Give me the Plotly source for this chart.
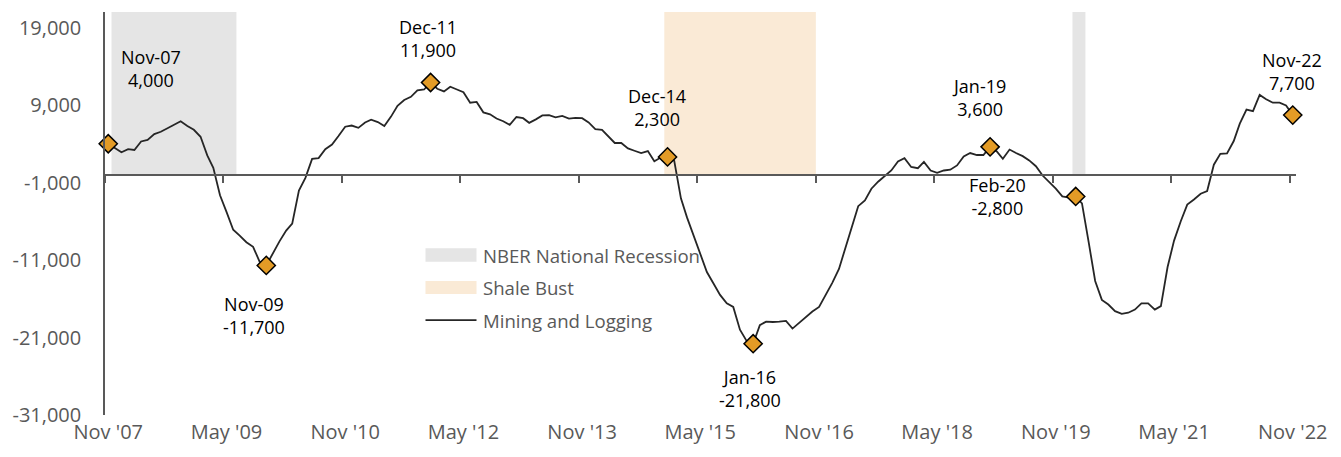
import pandas as pd
import plotly.graph_objects as go

# ---------------- data ----------------
start_month = "2007-11"
mining_logging = [
    4000, 3400, 2900, 3300, 3200, 4300, 4500, 5250, 5550, 6000, 6500, 6900,      # Nov07-Oct08
    6300, 5800, 4900, 2500, 900, -2650, -4800, -7100, -7850, -8700, -9300, -11200,  # Nov08-Oct09
    -11700, -10100, -8600, -7200, -6300, -2050, -400, 2050, 2150, 3300, 3900, 5000,  # Nov09-Oct10
    6200, 6350, 6050, 6750, 7100, 6800, 6300, 7500, 8900, 9650, 10050, 10900,     # Nov10-Oct11
    11000, 11900, 11100, 10750, 11350, 11000, 10650, 9300, 9400, 8050, 7800, 7250,  # Nov11-Oct12
    6900, 6450, 7450, 7300, 6700, 7150, 7650, 7700, 7400, 7600, 7250, 7350,       # Nov12-Oct13
    7300, 6750, 5900, 5800, 5050, 4100, 4100, 3400, 3100, 2800, 3050, 1750,       # Nov13-Oct14
    2250, 2300, 1800, -3050, -5500, -7950, -10250, -12550, -14000, -15500, -16600, -17050,  # Nov14-Oct15
    -20000, -21400, -21800, -19400, -18950, -19000, -18950, -18850, -19850, -19100, -18450, -17650,  # Nov15-Oct16
    -17050, -15600, -13950, -12150, -9650, -7050, -4050, -3300, -1800, -900, -150, 550,  # Nov16-Oct17
    1700, 2150, 1000, 850, 1650, 550, 250, 550, 650, 1200, 2350, 2800,           # Nov17-Oct18
    2550, 2550, 3600, 3000, 2050, 3250, 2800, 2400, 1850, 1100, -100, -950,       # Nov18-Oct19
    -1800, -2800, -2950, -2800, -3700, -8700, -13700, -16150, -16750, -17600, -17950, -17800,  # Nov19-Oct20
    -17400, -16600, -16600, -17400, -16950, -11900, -8500, -6000, -3850, -3200, -2450, -2100,  # Nov20-Oct21
    1300, 2700, 2750, 4350, 6600, 8400, 8200, 10300, 9750, 9300, 9300, 8950,      # Nov21-Oct22
    7700,                                                                          # Nov22
]

highlight_months = ["2007-11", "2009-11", "2011-12", "2014-12", "2016-01", "2019-01", "2020-02", "2022-11"]
highlight_labels = ["Nov-07", "Nov-09", "Dec-11", "Dec-14", "Jan-16", "Jan-19", "Feb-20", "Nov-22"]
highlight_values = [4000, -11700, 11900, 2300, -21800, 3600, -2800, 7700]

recession_starts = ["2007-12-01", "2020-02-01"]
recession_ends = ["2009-07-01", "2020-04-01"]
shale_starts = ["2014-12-01"]
shale_ends = ["2016-11-01"]

x_tick_months = ["2007-11", "2009-05", "2010-11", "2012-05", "2013-11", "2015-05",
                 "2016-11", "2018-05", "2019-11", "2021-05", "2022-11"]
x_tick_labels = ["Nov '07", "May '09", "Nov '10", "May '12", "Nov '13", "May '15",
                 "Nov '16", "May '18", "Nov '19", "May '21", "Nov '22"]
y_tick_values = [-31000, -21000, -11000, -1000, 9000, 19000]
y_tick_labels = ["-31,000", "-21,000", "-11,000", "-1,000", "9,000", "19,000"]

legend_labels = ["NBER National Recession", "Shale Bust", "Mining and Logging"]

# ---------------- styling ----------------
W, H = 1341, 457
ML, MR, MT, MB = 105, 45, 12, 39
Y_MIN, Y_MAX = -31000, 21000
FONT = "Open Sans"
GRAY_SHADE = "#E5E5E5"
SHALE_SHADE = "#FAEAD6"
LINE_COLOR = "#262626"
MARKER_COLOR = "#E39B26"
AXIS_COLOR = "#595959"
TICK_TEXT = "#595959"

# label block offsets (px) relative to each highlighted marker
label_dx = [43, -12, -3, -11, -3, -11, -78, -1]
label_dy = [75, -50, 44, 49, -45, 49, 0, 44]


def mid(m):
    return pd.Timestamp(m + "-01") + pd.Timedelta(days=15)


dates = pd.date_range(start=start_month + "-01", periods=len(mining_logging), freq="MS") + pd.Timedelta(days=15)
hl_dates = [mid(m) for m in highlight_months]

x_range = [pd.Timestamp(start_month + "-01"), pd.Timestamp("2022-12-01")]

fig = go.Figure()

fig.add_trace(go.Scatter(
    x=dates, y=mining_logging, mode="lines", name=legend_labels[2],
    line=dict(color=LINE_COLOR, width=1.8), showlegend=False, xaxis="x", yaxis="y",
))
fig.add_trace(go.Scatter(
    x=hl_dates, y=highlight_values, mode="markers", showlegend=False,
    marker=dict(symbol="diamond", size=14, color=MARKER_COLOR, line=dict(color="#000000", width=1.5)),
    xaxis="x", yaxis="y", cliponaxis=False,
))
# invisible trace to bind the zero-crossing axis
fig.add_trace(go.Scatter(x=[x_range[0]], y=[0], mode="markers", marker=dict(opacity=0),
                         showlegend=False, hoverinfo="skip", xaxis="x2", yaxis="y"))

shapes = []
for s, e in zip(recession_starts, recession_ends):
    shapes.append(dict(type="rect", xref="x", yref="y", x0=s, x1=e, y0=0, y1=Y_MAX,
                       fillcolor=GRAY_SHADE, line=dict(width=0), layer="below"))
for s, e in zip(shale_starts, shale_ends):
    shapes.append(dict(type="rect", xref="x", yref="y", x0=s, x1=e, y0=0, y1=Y_MAX,
                       fillcolor=SHALE_SHADE, line=dict(width=0), layer="below"))

# manual legend (pixel positions converted to paper coordinates)
PW, PH = W - ML - MR, H - MT - MB


def px(xp):
    return (xp - ML) / PW


def py(yp):
    return (H - MB - yp) / PH


sw_x0, sw_x1 = 425.5, 476.5
shapes.append(dict(type="rect", xref="paper", yref="paper", x0=px(sw_x0), x1=px(sw_x1),
                   y0=py(263.5), y1=py(250), fillcolor=GRAY_SHADE, line=dict(width=0)))
shapes.append(dict(type="rect", xref="paper", yref="paper", x0=px(sw_x0), x1=px(sw_x1),
                   y0=py(296), y1=py(283), fillcolor=SHALE_SHADE, line=dict(width=0)))
shapes.append(dict(type="line", xref="paper", yref="paper", x0=px(sw_x0), x1=px(sw_x1),
                   y0=py(322.5), y1=py(322.5), line=dict(color=LINE_COLOR, width=1.8)))

annotations = []
for lab, yc in zip(legend_labels, [257.5, 289.5, 322.5]):
    annotations.append(dict(xref="paper", yref="paper", x=px(481), y=py(yc), text=lab,
                            showarrow=False, xanchor="left", yanchor="middle",
                            font=dict(family=FONT, size=18.6, color=TICK_TEXT)))

for d, v, lab, dx, dy in zip(hl_dates, highlight_values, highlight_labels, label_dx, label_dy):
    annotations.append(dict(x=d, y=v, xref="x", yref="y", text=f"{lab}<br>{v:,}",
                            showarrow=False, xanchor="center", yanchor="middle",
                            xshift=dx, yshift=dy,
                            font=dict(family=FONT, size=18, color="#000000")))

fig.update_layout(
    width=W, height=H,
    margin=dict(l=ML, r=MR, t=MT, b=MB, pad=0),
    paper_bgcolor="white", plot_bgcolor="white",
    font=dict(family=FONT, color=TICK_TEXT),
    showlegend=False,
    shapes=shapes, annotations=annotations,
    xaxis=dict(type="date", range=x_range, tickvals=[mid(m) for m in x_tick_months],
               ticktext=x_tick_labels, showgrid=False, zeroline=False, showline=False,
               ticks="", tickfont=dict(family=FONT, size=20, color=TICK_TEXT),
               ticklabelstandoff=3, anchor="y"),
    xaxis2=dict(type="date", range=x_range, overlaying="x", anchor="free",
                position=(0 - Y_MIN) / (Y_MAX - Y_MIN),
                tickvals=[pd.Timestamp(m + "-01") for m in x_tick_months],
                showticklabels=False, ticks="outside", ticklen=7, tickwidth=1.5,
                tickcolor=AXIS_COLOR, showline=True, linecolor=AXIS_COLOR, linewidth=1.5,
                showgrid=False, zeroline=False),
    yaxis=dict(range=[Y_MIN, Y_MAX], tickvals=y_tick_values, ticktext=y_tick_labels,
               showgrid=False, zeroline=False, showline=True, linecolor=AXIS_COLOR,
               linewidth=1.5, ticks="", ticklabelstandoff=18,
               tickfont=dict(family=FONT, size=20, color=TICK_TEXT)),
)

fig.write_html("out.html", post_script="document.body.style.margin='0';",
               config={"displayModeBar": False})
